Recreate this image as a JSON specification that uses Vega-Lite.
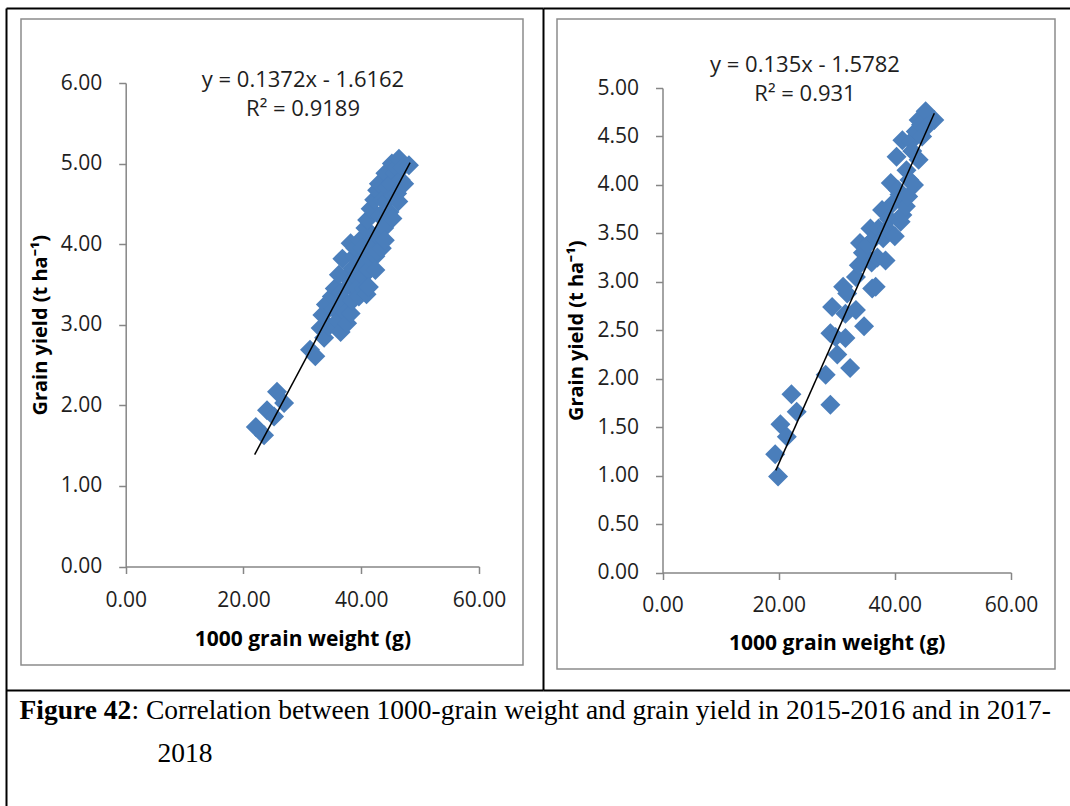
{
  "$schema": "https://vega.github.io/schema/vega-lite/v6.json",
  "background": "white",
  "padding": {"left": 5, "top": 7, "right": 0, "bottom": 0},
  "bounds": "flush",
  "config": {
    "view": {"stroke": "#8c8c8c", "strokeWidth": 1.5},
    "font": "Open Sans",
    "axis": {
      "grid": false,
      "domainColor": "#868686",
      "domainWidth": 1.5,
      "tickColor": "#868686",
      "tickWidth": 1.5,
      "tickSize": 7,
      "labelFont": "Open Sans",
      "labelFontSize": 21,
      "labelColor": "#1e1e1e",
      "labelOverlap": false,
      "labelFlush": false,
      "titleColor": "black",
      "titleFontWeight": "bold"
    }
  },
  "datasets": {
    "y2016": [
      {"weight": 22.1, "grainYield": 1.73}, {"weight": 23.5, "grainYield": 1.63}, {"weight": 24.0, "grainYield": 1.94},
      {"weight": 25.2, "grainYield": 1.86}, {"weight": 25.7, "grainYield": 2.17}, {"weight": 26.9, "grainYield": 2.03},
      {"weight": 31.3, "grainYield": 2.69}, {"weight": 32.2, "grainYield": 2.61},
      {"weight": 33.1, "grainYield": 2.96}, {"weight": 33.4, "grainYield": 3.12}, {"weight": 33.7, "grainYield": 2.84},
      {"weight": 34.0, "grainYield": 3.25}, {"weight": 34.5, "grainYield": 2.98}, {"weight": 35.0, "grainYield": 3.35},
      {"weight": 35.3, "grainYield": 3.20}, {"weight": 35.5, "grainYield": 3.45}, {"weight": 36.0, "grainYield": 3.05},
      {"weight": 36.5, "grainYield": 2.91}, {"weight": 36.2, "grainYield": 3.62}, {"weight": 36.5, "grainYield": 3.40},
      {"weight": 36.8, "grainYield": 3.82}, {"weight": 37.0, "grainYield": 3.30}, {"weight": 37.3, "grainYield": 3.15},
      {"weight": 37.5, "grainYield": 3.60}, {"weight": 37.6, "grainYield": 3.02}, {"weight": 38.0, "grainYield": 3.50},
      {"weight": 38.2, "grainYield": 3.14}, {"weight": 38.2, "grainYield": 4.01}, {"weight": 38.5, "grainYield": 3.70},
      {"weight": 38.5, "grainYield": 3.30}, {"weight": 38.8, "grainYield": 3.85}, {"weight": 39.0, "grainYield": 3.95},
      {"weight": 39.0, "grainYield": 3.60}, {"weight": 39.3, "grainYield": 3.45}, {"weight": 39.6, "grainYield": 3.35},
      {"weight": 39.8, "grainYield": 4.05}, {"weight": 40.0, "grainYield": 3.80}, {"weight": 40.2, "grainYield": 3.95},
      {"weight": 40.3, "grainYield": 3.60}, {"weight": 40.5, "grainYield": 3.45}, {"weight": 40.7, "grainYield": 4.20},
      {"weight": 40.9, "grainYield": 3.38}, {"weight": 41.0, "grainYield": 4.30}, {"weight": 41.3, "grainYield": 3.68},
      {"weight": 41.3, "grainYield": 3.47}, {"weight": 41.5, "grainYield": 3.82}, {"weight": 41.6, "grainYield": 4.44},
      {"weight": 41.8, "grainYield": 3.95}, {"weight": 42.0, "grainYield": 4.10}, {"weight": 42.2, "grainYield": 4.55},
      {"weight": 42.4, "grainYield": 3.85}, {"weight": 42.4, "grainYield": 3.68}, {"weight": 42.7, "grainYield": 3.91},
      {"weight": 42.7, "grainYield": 4.67}, {"weight": 43.0, "grainYield": 4.09}, {"weight": 43.0, "grainYield": 4.75},
      {"weight": 43.2, "grainYield": 4.35}, {"weight": 43.5, "grainYield": 3.95}, {"weight": 43.6, "grainYield": 4.55},
      {"weight": 43.9, "grainYield": 4.20}, {"weight": 44.0, "grainYield": 4.05}, {"weight": 44.1, "grainYield": 4.88},
      {"weight": 44.4, "grainYield": 4.70}, {"weight": 44.5, "grainYield": 4.55}, {"weight": 44.8, "grainYield": 4.40},
      {"weight": 45.0, "grainYield": 4.75}, {"weight": 45.2, "grainYield": 5.00}, {"weight": 45.3, "grainYield": 4.32},
      {"weight": 45.5, "grainYield": 4.60}, {"weight": 45.7, "grainYield": 4.88}, {"weight": 46.0, "grainYield": 4.95},
      {"weight": 46.1, "grainYield": 4.63}, {"weight": 46.3, "grainYield": 4.53}, {"weight": 46.4, "grainYield": 5.06},
      {"weight": 46.7, "grainYield": 4.80}, {"weight": 47.0, "grainYield": 4.95}, {"weight": 47.3, "grainYield": 4.75},
      {"weight": 48.1, "grainYield": 4.98}
    ],
    "y2018": [
      {"weight": 19.9, "grainYield": 0.99}, {"weight": 19.4, "grainYield": 1.22}, {"weight": 20.3, "grainYield": 1.53},
      {"weight": 21.4, "grainYield": 1.40}, {"weight": 22.2, "grainYield": 1.84}, {"weight": 23.1, "grainYield": 1.66},
      {"weight": 28.1, "grainYield": 2.04}, {"weight": 28.9, "grainYield": 1.73}, {"weight": 30.1, "grainYield": 2.25},
      {"weight": 32.3, "grainYield": 2.11}, {"weight": 28.9, "grainYield": 2.47}, {"weight": 29.8, "grainYield": 2.43},
      {"weight": 29.2, "grainYield": 2.74}, {"weight": 31.5, "grainYield": 2.42}, {"weight": 31.5, "grainYield": 2.67},
      {"weight": 33.3, "grainYield": 2.71}, {"weight": 34.7, "grainYield": 2.54}, {"weight": 31.1, "grainYield": 2.95},
      {"weight": 31.8, "grainYield": 2.88}, {"weight": 33.3, "grainYield": 3.05}, {"weight": 36.1, "grainYield": 2.93},
      {"weight": 36.7, "grainYield": 2.95}, {"weight": 33.8, "grainYield": 3.17}, {"weight": 34.0, "grainYield": 3.40},
      {"weight": 34.5, "grainYield": 3.30}, {"weight": 35.3, "grainYield": 3.38}, {"weight": 35.8, "grainYield": 3.55},
      {"weight": 36.0, "grainYield": 3.20}, {"weight": 36.5, "grainYield": 3.45}, {"weight": 37.0, "grainYield": 3.25},
      {"weight": 37.2, "grainYield": 3.55}, {"weight": 37.8, "grainYield": 3.74}, {"weight": 38.0, "grainYield": 3.45},
      {"weight": 38.4, "grainYield": 3.22}, {"weight": 38.6, "grainYield": 3.55}, {"weight": 39.0, "grainYield": 3.65},
      {"weight": 39.3, "grainYield": 4.02}, {"weight": 39.5, "grainYield": 3.80}, {"weight": 40.0, "grainYield": 3.47},
      {"weight": 40.3, "grainYield": 4.29}, {"weight": 40.5, "grainYield": 3.95}, {"weight": 40.8, "grainYield": 3.90},
      {"weight": 41.0, "grainYield": 3.62}, {"weight": 41.3, "grainYield": 4.46}, {"weight": 41.3, "grainYield": 3.69},
      {"weight": 41.9, "grainYield": 3.78}, {"weight": 42.0, "grainYield": 4.15}, {"weight": 42.3, "grainYield": 3.88},
      {"weight": 42.5, "grainYield": 4.05}, {"weight": 42.8, "grainYield": 4.45}, {"weight": 43.3, "grainYield": 4.00},
      {"weight": 43.0, "grainYield": 4.35}, {"weight": 43.6, "grainYield": 4.55}, {"weight": 44.1, "grainYield": 4.26},
      {"weight": 44.1, "grainYield": 4.67}, {"weight": 44.5, "grainYield": 4.62}, {"weight": 44.7, "grainYield": 4.50},
      {"weight": 45.3, "grainYield": 4.76}, {"weight": 46.8, "grainYield": 4.67}, {"weight": 45.5, "grainYield": 4.60}
    ],
    "fit2016": [
      {"weight": 21.9, "grainYield": 1.389}, {"weight": 48.3, "grainYield": 5.011}
    ],
    "fit2018": [
      {"weight": 19.5, "grainYield": 1.054}, {"weight": 46.8, "grainYield": 4.740}
    ]
  },
  "spacing": 34,
  "hconcat": [
    {
      "width": 502,
      "height": 646,
      "title": {
        "text": ["y = 0.1372x - 1.6162", "R\u00b2 = 0.9189"],
        "orient": "top",
        "anchor": "middle",
        "font": "Open Sans",
        "fontSize": 22,
        "fontWeight": "normal",
        "color": "#1e1e1e",
        "lineHeight": 29.5,
        "offset": -113,
        "dx": 31
      },
      "resolve": {"scale": {"x": "independent", "y": "independent"}, "axis": {"x": "independent", "y": "independent"}},
      "layer": [
        {
          "data": {"name": "y2016"},
          "mark": {"type": "point", "shape": "diamond", "filled": true, "size": 400, "color": "#4A7EBB", "opacity": 1, "strokeWidth": 0},
          "encoding": {
            "x": {
              "field": "weight", "type": "quantitative",
              "scale": {"domain": [0, 60], "range": [104.7, 458], "nice": false, "zero": false},
              "axis": {
                "orient": "bottom", "values": [0, 20, 40, 60], "format": ".2f", "offset": -98.5,
                "labelPadding": 16,
                "title": "1000 grain weight (g)", "titleFont": "Open Sans", "titleFontSize": 21, "titlePadding": 18
              }
            },
            "y": {
              "field": "grainYield", "type": "quantitative",
              "scale": {"domain": [0, 6], "range": [547.5, 64], "nice": false, "zero": false},
              "axis": {
                "orient": "left", "values": [0, 1, 2, 3, 4, 5, 6], "format": ".2f", "offset": -104.7,
                "labelPadding": 17,
                "title": "Grain yield (t ha\u207b\u00b9)", "titleFont": "Open Sans", "titleFontSize": 20, "titlePadding": 10
              }
            }
          }
        },
        {
          "data": {"name": "fit2016"},
          "mark": {"type": "line", "color": "black", "strokeWidth": 1.5},
          "encoding": {
            "x": {"field": "weight", "type": "quantitative", "scale": {"domain": [0, 60], "range": [104.7, 458], "nice": false, "zero": false}, "axis": null},
            "y": {"field": "grainYield", "type": "quantitative", "scale": {"domain": [0, 6], "range": [547.5, 64], "nice": false, "zero": false}, "axis": null}
          }
        },
        {
          "data": {"name": "fit2016"},
          "mark": {"type": "point", "opacity": 0},
          "encoding": {
            "x": {
              "field": "weight", "type": "quantitative",
              "scale": {"domain": [0, 60], "range": [-15, 522], "nice": false, "zero": false},
              "axis": {"orient": "top", "offset": 11, "domainColor": "black", "domainWidth": 2, "ticks": false, "labels": false, "title": null}
            },
            "y": {
              "field": "grainYield", "type": "quantitative",
              "scale": {"domain": [0, 6], "range": [671, -11], "nice": false, "zero": false},
              "axis": {
                "orient": "right", "offset": 20, "domainColor": "black", "domainWidth": 2, "ticks": false, "labels": false,
                "title": "2018", "titleFont": "Liberation Serif", "titleFontSize": 27.5, "titleFontWeight": "normal", "titleColor": "black",
                "titleAngle": 0, "titleAlign": "left", "titleBaseline": "alphabetic", "titleX": -386, "titleY": 742
              }
            }
          }
        },
        {
          "data": {"name": "fit2016"},
          "mark": {"type": "point", "opacity": 0},
          "encoding": {
            "x": {
              "field": "weight", "type": "quantitative",
              "scale": {"domain": [0, 60], "range": [-15, 522], "nice": false, "zero": false},
              "axis": {
                "orient": "bottom", "offset": 25, "domainColor": "black", "domainWidth": 2, "ticks": false, "labels": false,
                "title": ": Correlation between 1000-grain weight and grain yield in 2015-2016 and in 2017-",
                "titleFont": "Liberation Serif", "titleFontSize": 27.5, "titleFontWeight": "normal", "titleColor": "black",
                "titleAngle": 0, "titleAlign": "left", "titleBaseline": "alphabetic", "titleX": 110, "titleY": 28
              }
            },
            "y": {
              "field": "grainYield", "type": "quantitative",
              "scale": {"domain": [0, 6], "range": [787, -11], "nice": false, "zero": false},
              "axis": {
                "orient": "left", "offset": 15, "domainColor": "black", "domainWidth": 2, "ticks": false, "labels": false,
                "title": "Figure 42", "titleFont": "Liberation Serif", "titleFontSize": 27.5, "titleFontWeight": "bold", "titleColor": "black",
                "titleAngle": 0, "titleAlign": "left", "titleBaseline": "alphabetic", "titleX": 13, "titleY": 699
              }
            }
          }
        }
      ]
    },
    {
      "width": 498,
      "height": 650,
      "title": {
        "text": ["y = 0.135x - 1.5782", "R\u00b2 = 0.931"],
        "orient": "top",
        "anchor": "middle",
        "font": "Open Sans",
        "fontSize": 22,
        "fontWeight": "normal",
        "color": "#1e1e1e",
        "lineHeight": 29.5,
        "offset": -98,
        "dx": -1
      },
      "resolve": {"scale": {"x": "independent", "y": "independent"}, "axis": {"x": "independent", "y": "independent"}},
      "layer": [
        {
          "data": {"name": "y2018"},
          "mark": {"type": "point", "shape": "diamond", "filled": true, "size": 400, "color": "#4A7EBB", "opacity": 1, "strokeWidth": 0},
          "encoding": {
            "x": {
              "field": "weight", "type": "quantitative",
              "scale": {"domain": [0, 60], "range": [105.5, 454], "nice": false, "zero": false},
              "axis": {
                "orient": "bottom", "values": [0, 20, 40, 60], "format": ".2f", "offset": -96.5,
                "labelPadding": 15,
                "title": "1000 grain weight (g)", "titleFont": "Open Sans", "titleFontSize": 21, "titlePadding": 17
              }
            },
            "y": {
              "field": "grainYield", "type": "quantitative",
              "scale": {"domain": [0, 5], "range": [553.5, 69], "nice": false, "zero": false},
              "axis": {
                "orient": "left", "values": [0, 0.5, 1, 1.5, 2, 2.5, 3, 3.5, 4, 4.5, 5], "format": ".2f", "offset": -105.5,
                "labelPadding": 17,
                "title": "Grain yield (t ha\u207b\u00b9)", "titleFont": "Open Sans", "titleFontSize": 20, "titlePadding": 10
              }
            }
          }
        },
        {
          "data": {"name": "fit2018"},
          "mark": {"type": "line", "color": "black", "strokeWidth": 1.5},
          "encoding": {
            "x": {"field": "weight", "type": "quantitative", "scale": {"domain": [0, 60], "range": [105.5, 454], "nice": false, "zero": false}, "axis": null},
            "y": {"field": "grainYield", "type": "quantitative", "scale": {"domain": [0, 5], "range": [553.5, 69], "nice": false, "zero": false}, "axis": null}
          }
        },
        {
          "data": {"name": "fit2018"},
          "mark": {"type": "point", "opacity": 0},
          "encoding": {
            "x": {
              "field": "weight", "type": "quantitative",
              "scale": {"domain": [0, 60], "range": [-14, 520], "nice": false, "zero": false},
              "axis": {"orient": "top", "offset": 11, "domainColor": "black", "domainWidth": 2, "ticks": false, "labels": false, "title": null}
            },
            "y": {
              "field": "grainYield", "type": "quantitative",
              "scale": {"domain": [0, 5], "range": [553.5, 69], "nice": false, "zero": false},
              "axis": null
            }
          }
        },
        {
          "data": {"name": "fit2018"},
          "mark": {"type": "point", "opacity": 0},
          "encoding": {
            "x": {
              "field": "weight", "type": "quantitative",
              "scale": {"domain": [0, 60], "range": [-14, 520], "nice": false, "zero": false},
              "axis": {"orient": "bottom", "offset": 21, "domainColor": "black", "domainWidth": 2, "ticks": false, "labels": false, "title": null}
            },
            "y": {
              "field": "grainYield", "type": "quantitative",
              "scale": {"domain": [0, 5], "range": [553.5, 69], "nice": false, "zero": false},
              "axis": null
            }
          }
        }
      ]
    }
  ]
}
